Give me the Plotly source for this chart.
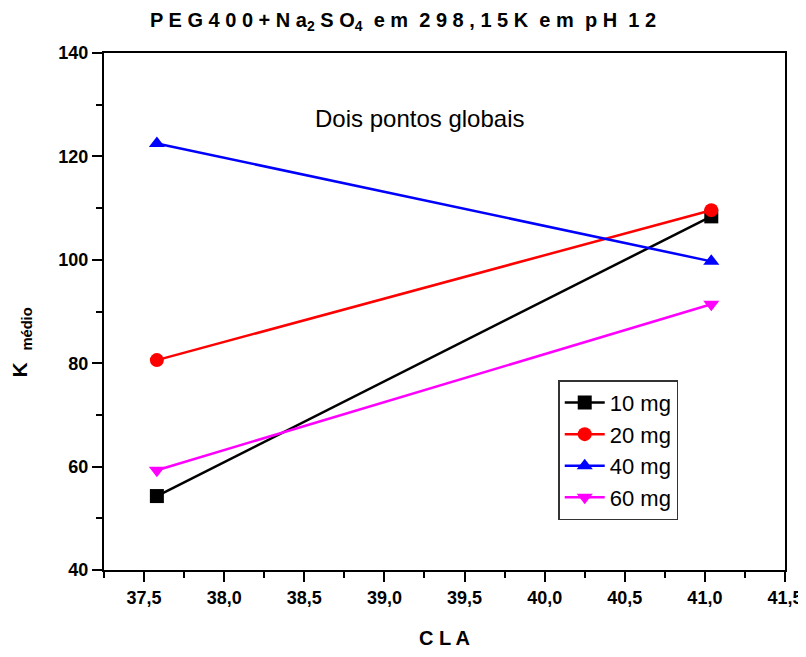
import plotly.graph_objects as go

cla = [37.58, 41.04]
series_names = ["10 mg", "20 mg", "40 mg", "60 mg"]
k_10mg = [54.3, 108.4]
k_20mg = [80.6, 109.6]
k_40mg = [122.5, 99.7]
k_60mg = [59.3, 91.4]
x_ticks = [37.5, 38.0, 38.5, 39.0, 39.5, 40.0, 40.5, 41.0, 41.5]
x_tick_labels = ["37,5", "38,0", "38,5", "39,0", "39,5", "40,0", "40,5", "41,0", "41,5"]
y_ticks = [40, 60, 80, 100, 120, 140]
y_tick_labels = ["40", "60", "80", "100", "120", "140"]

colors = ["#000000", "#ff0000", "#0000ff", "#ff00ff"]
symbols = ["square", "circle", "triangle-up", "triangle-down"]
values = [k_10mg, k_20mg, k_40mg, k_60mg]

FONT = "Arial, Liberation Sans, sans-serif"

fig = go.Figure()
for name, vals, c, s in zip(series_names, values, colors, symbols):
    fig.add_trace(go.Scatter(
        x=cla, y=vals, name=name, mode="lines+markers",
        line=dict(color=c, width=2.5),
        marker=dict(symbol=s, size=14, color=c, line=dict(width=0)),
    ))

axis_common = dict(
    showline=True, linecolor="black", linewidth=2, mirror=True,
    ticks="outside", tickwidth=2, tickcolor="black", ticklen=10,
    showgrid=False, zeroline=False, automargin=False,
    ticklabeloverflow="allow",
    tickfont=dict(family=FONT, size=18, color="black"),
    minor=dict(ticks="outside", ticklen=6, tickwidth=2, tickcolor="black"),
)

fig.update_xaxes(
    range=[37.25, 41.5], tickvals=x_ticks,
    ticktext=["<b>%s</b>" % t for t in x_tick_labels],
    minor_dtick=0.25, minor_tick0=37.25,
    title=dict(text="<b>C L A</b>", font=dict(family=FONT, size=20, color="black"), standoff=24),
    **axis_common,
)
fig.update_yaxes(
    range=[40, 140], tickvals=y_ticks,
    ticktext=["<b>%s</b>" % t for t in y_tick_labels],
    minor_dtick=10, minor_tick0=40,
    **axis_common,
)

# y-axis title placed as rotated text
fig.add_annotation(
    x=-0.122, y=0.44, xref="paper", yref="paper",
    text="<b>K&nbsp;&nbsp;<sub>médio</sub></b>", textangle=-90, showarrow=False,
    font=dict(family=FONT, size=21, color="black"),
    xanchor="center", yanchor="middle",
)

fig.add_annotation(
    x=0.464, y=0.903, xref="paper", yref="paper",
    text="Dois pontos globais", showarrow=False,
    font=dict(family=FONT, size=24, color="black"),
)

fig.update_layout(
    width=790, height=641,
    margin=dict(l=96, r=13, t=45, b=79),
    paper_bgcolor="white", plot_bgcolor="white",
    title=dict(
        text="<b>P E G 4 0 0 + N a<sub>2</sub> S O<sub>4</sub>  e m  2 9 8 , 1 5 K  e m  p H  1 2</b>",
        x=0.5, xanchor="center", y=0.981, yanchor="middle",
        font=dict(family=FONT, size=20, color="black"),
    ),
    legend=dict(
        x=0.667, y=0.367, xanchor="left", yanchor="top",
        bordercolor="#333333", borderwidth=1.5, bgcolor="white",
        font=dict(family=FONT, size=22, color="black"),
        tracegroupgap=0, itemwidth=40,
    ),
    showlegend=True,
)

fig.write_html("out.html")
